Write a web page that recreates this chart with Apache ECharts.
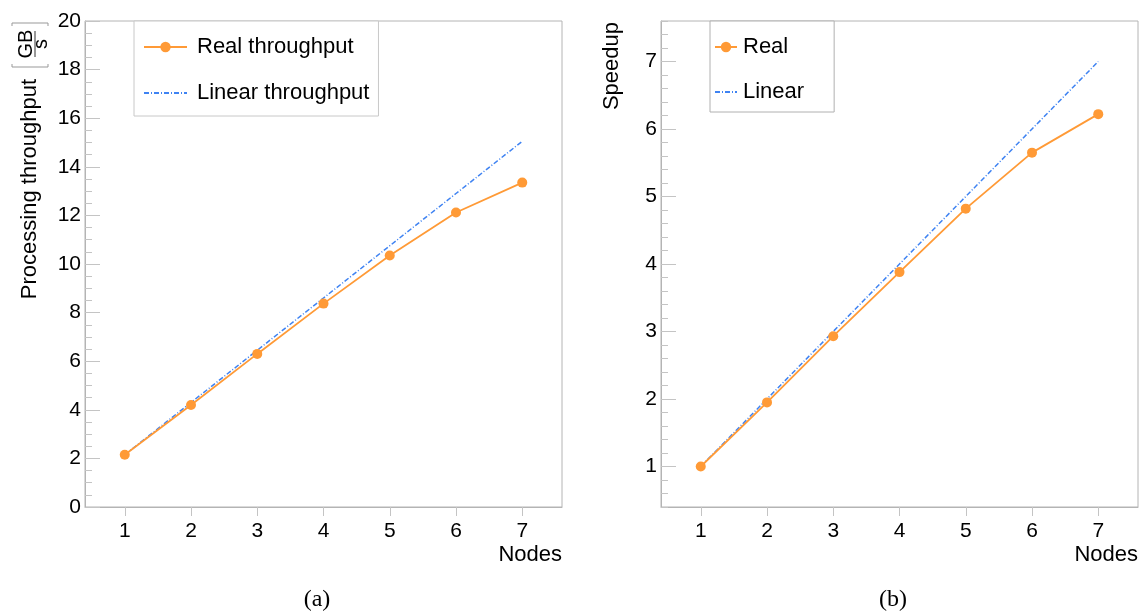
<!DOCTYPE html>
<html>
<head>
<meta charset="utf-8">
<script src="https://cdn.jsdelivr.net/npm/echarts@6/dist/echarts.min.js"></script>
<style>
  html, body { margin: 0; padding: 0; background: #fff; }
  #chart { width: 1140px; height: 611px; }
</style>
</head>
<body>
<div id="chart"></div>
<script>
// values
const nodes = [1, 2, 3, 4, 5, 6, 7];
const realThroughput = [2.15, 4.2, 6.3, 8.37, 10.35, 12.12, 13.35];
const linearThroughput = [2.15, 4.3, 6.45, 8.6, 10.75, 12.9, 15.05];
const realSpeedup = [1.0, 1.95, 2.93, 3.88, 4.82, 5.65, 6.22];
const linearSpeedup = [1, 2, 3, 4, 5, 6, 7];
const speedupTicks = [1, 2, 3, 4, 5, 6, 7];

const FONT = 'Liberation Sans';
const ORANGE = '#ff9a36';
const BLUE = '#3f83f2';
const AXIS_GREY = '#b4b4b4';
const TICK_GREY = '#c4c4c4';

const toPairs = (ys) => nodes.map((n, i) => [n, ys[i]]);

const chart = echarts.init(document.getElementById('chart'));

const xAxisBase = (gridIndex) => ({
  type: 'value',
  gridIndex: gridIndex,
  min: 0.4,
  max: 7.6,
  name: 'Nodes',
  nameLocation: 'end',
  nameGap: 0,
  nameTextStyle: {
    fontFamily: FONT, fontSize: 22, color: '#000',
    align: 'right', verticalAlign: 'top', padding: [37, 0, 0, 0]
  },
  axisLine: { show: true, lineStyle: { color: AXIS_GREY } },
  axisTick: { show: true, length: 9, customValues: nodes, lineStyle: { color: TICK_GREY } },
  axisLabel: { customValues: nodes, margin: 14, fontFamily: FONT, fontSize: 21, color: '#000' },
  splitLine: { show: false }
});

// the linear series has no marker, so hide the marker in its legend icon
const noMarker = { opacity: 0 };

const option = {
  animation: false,
  backgroundColor: '#fff',
  grid: [
    { left: 85, top: 21, width: 477, height: 486, show: true, borderColor: AXIS_GREY, borderWidth: 1, outerBoundsMode: 'none' },
    { left: 661, top: 21, width: 477, height: 486, show: true, borderColor: AXIS_GREY, borderWidth: 1, outerBoundsMode: 'none' }
  ],
  xAxis: [xAxisBase(0), xAxisBase(1)],
  yAxis: [
    {
      type: 'value', gridIndex: 0, min: 0, max: 20, interval: 2,
      axisLine: { show: true, lineStyle: { color: AXIS_GREY } },
      axisTick: { show: true, inside: true, length: 15, lineStyle: { color: TICK_GREY } },
      minorTick: { show: true, splitNumber: 4, length: 7, lineStyle: { color: TICK_GREY } },
      axisLabel: { margin: 4, fontFamily: FONT, fontSize: 21, color: '#000' },
      splitLine: { show: false }
    },
    {
      type: 'value', gridIndex: 1, min: 0.4, max: 7.6, position: 'left', offset: 0,
      axisLine: { show: true, lineStyle: { color: AXIS_GREY } },
      axisTick: { show: true, inside: true, length: 15, customValues: speedupTicks, lineStyle: { color: TICK_GREY } },
      axisLabel: { customValues: speedupTicks, margin: 4, fontFamily: FONT, fontSize: 21, color: '#000' },
      splitLine: { show: false }
    },
    {
      // minor ticks of the speedup axis
      type: 'value', gridIndex: 1, min: 0.4, max: 7.6, interval: 0.2, position: 'left', offset: 0,
      axisLine: { show: false },
      axisTick: { show: true, inside: true, length: 7, lineStyle: { color: TICK_GREY } },
      axisLabel: { show: false },
      splitLine: { show: false }
    }
  ],
  legend: [
    {
      data: [{ name: 'Real throughput' }, { name: 'Linear throughput', itemStyle: noMarker }],
      orient: 'vertical', left: 134, top: 21,
      padding: [15, 9, 12, 9],
      itemWidth: 43, itemHeight: 13, itemGap: 24,
      backgroundColor: '#fff', borderColor: '#c8c8c8', borderWidth: 1,
      selectedMode: false,
      textStyle: { fontFamily: FONT, fontSize: 22, lineHeight: 22, color: '#000', padding: [0, 0, 0, 5] }
    },
    {
      data: [{ name: 'Real' }, { name: 'Linear', itemStyle: noMarker }],
      orient: 'vertical', left: 710, top: 21,
      padding: [15, 30, 9, 4],
      itemWidth: 22, itemHeight: 13, itemGap: 23,
      backgroundColor: '#fff', borderColor: '#b0b0b0', borderWidth: 1,
      selectedMode: false,
      textStyle: { fontFamily: FONT, fontSize: 22, lineHeight: 22, color: '#000', padding: [0, 0, 0, 1] }
    }
  ],
  series: [
    {
      name: 'Real throughput', type: 'line', xAxisIndex: 0, yAxisIndex: 0,
      data: toPairs(realThroughput),
      symbol: 'circle', symbolSize: 10,
      lineStyle: { color: ORANGE, width: 1.8 },
      itemStyle: { color: ORANGE },
      z: 3
    },
    {
      name: 'Linear throughput', type: 'line', xAxisIndex: 0, yAxisIndex: 0,
      data: toPairs(linearThroughput),
      symbol: 'none',
      lineStyle: { color: BLUE, width: 1.5, type: [5, 2, 1, 2] },
      itemStyle: { color: BLUE },
      z: 2
    },
    {
      name: 'Real', type: 'line', xAxisIndex: 1, yAxisIndex: 1,
      data: toPairs(realSpeedup),
      symbol: 'circle', symbolSize: 10,
      lineStyle: { color: ORANGE, width: 1.8 },
      itemStyle: { color: ORANGE },
      z: 3
    },
    {
      name: 'Linear', type: 'line', xAxisIndex: 1, yAxisIndex: 1,
      data: toPairs(linearSpeedup),
      symbol: 'none',
      lineStyle: { color: BLUE, width: 1.5, type: [5, 2, 1, 2] },
      itemStyle: { color: BLUE },
      z: 2
    }
  ],
  graphic: [
    // y title of the throughput plot, with the [GB/s] unit as a fraction
    { type: 'text', x: 29.5, y: 79, rotation: Math.PI / 2,
      style: { text: 'Processing throughput', font: '22px "Liberation Sans"', fill: '#000', align: 'right', verticalAlign: 'middle' } },
    { type: 'text', x: 26, y: 44, rotation: Math.PI / 2,
      style: { text: 'GB', font: '20px "Liberation Sans"', fill: '#000', align: 'center', verticalAlign: 'middle' } },
    { type: 'text', x: 41, y: 44, rotation: Math.PI / 2,
      style: { text: 's', font: '20px "Liberation Sans"', fill: '#000', align: 'center', verticalAlign: 'middle' } },
    { type: 'line', shape: { x1: 35, y1: 31, x2: 35, y2: 57 }, style: { stroke: '#333', lineWidth: 1 } },
    { type: 'polyline', shape: { points: [[12, 26], [12, 23], [48, 23], [48, 26]] }, style: { stroke: '#999', lineWidth: 1, fill: null } },
    { type: 'polyline', shape: { points: [[12, 64], [12, 67], [48, 67], [48, 64]] }, style: { stroke: '#999', lineWidth: 1, fill: null } },
    // y title of the speedup plot
    { type: 'text', x: 611.5, y: 22, rotation: Math.PI / 2,
      style: { text: 'Speedup', font: '22px "Liberation Sans"', fill: '#000', align: 'right', verticalAlign: 'middle' } },
    // sub-figure captions
    { type: 'text', x: 317, y: 600,
      style: { text: '(a)', font: '24px "Liberation Serif"', fill: '#000', align: 'center', verticalAlign: 'middle' } },
    { type: 'text', x: 893, y: 600,
      style: { text: '(b)', font: '24px "Liberation Serif"', fill: '#000', align: 'center', verticalAlign: 'middle' } }
  ]
};

chart.setOption(option);
</script>
</body>
</html>
